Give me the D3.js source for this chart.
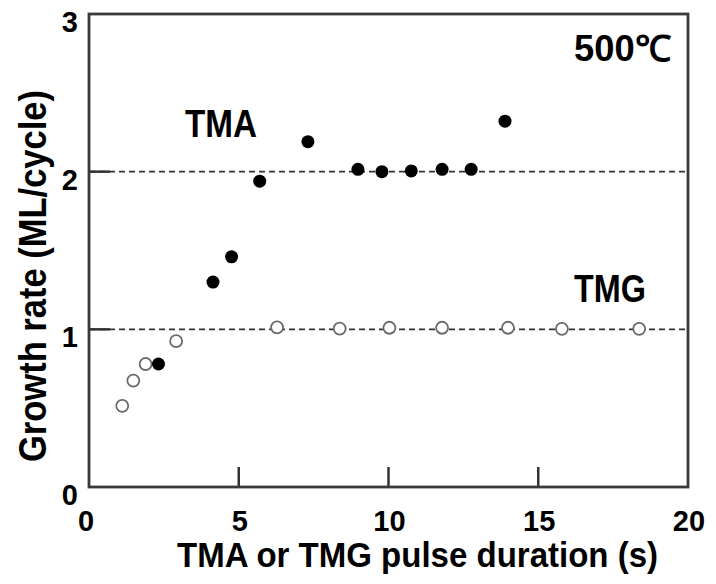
<!DOCTYPE html>
<html lang="en">
<head>
<meta charset="UTF-8">
<title>Growth rate vs pulse duration</title>
<script src="https://cdn.jsdelivr.net/npm/d3@7"></script>
<style>
  body { margin: 0; background: #fff; }
  text { font-family: "Liberation Sans", Arial, sans-serif; font-weight: bold; fill: #000; }
</style>
</head>
<body>
<div id="chart"></div>
<script>
// TMA points (filled)
var tmaX = [2.32, 4.14, 4.76, 5.70, 7.31, 8.98, 9.78, 10.76, 11.79, 12.76, 13.89];
var tmaY = [0.78, 1.30, 1.46, 1.94, 2.19, 2.015, 2.00, 2.005, 2.015, 2.015, 2.32];

// TMG points (open)
var tmgX = [1.11, 1.48, 1.89, 2.91, 6.28, 8.37, 10.03, 11.79, 13.99, 15.79, 18.37];
var tmgY = [0.515, 0.675, 0.78, 0.925, 1.013, 1.005, 1.01, 1.01, 1.01, 1.003, 1.003];

// saturation levels (dashed guides)
var levels = [1, 2];

var xTicks = [0, 5, 10, 15, 20];
var yTicks = [0, 1, 2, 3];

var W = 716, H = 584;
var margin = {top: 14, right: 28, bottom: 97, left: 89};

var svg = d3.select("#chart").append("svg")
    .attr("width", W)
    .attr("height", H);

var x = d3.scaleLinear().domain([0, 20]).range([margin.left, W - margin.right]);
var y = d3.scaleLinear().domain([0, 3]).range([H - margin.bottom, margin.top]);

// dashed guide lines
svg.selectAll(".guide")
    .data(levels)
    .enter().append("line")
    .attr("x1", x(0)).attr("x2", x(20))
    .attr("y1", function (d) { return y(d); })
    .attr("y2", function (d) { return y(d); })
    .attr("stroke", "#333")
    .attr("stroke-width", 1.8)
    .attr("stroke-dasharray", "6,4");

// inner ticks
svg.selectAll(".xtick")
    .data([5, 10, 15])
    .enter().append("line")
    .attr("x1", function (d) { return x(d); })
    .attr("x2", function (d) { return x(d); })
    .attr("y1", y(0)).attr("y2", y(0) - 20)
    .attr("stroke", "#333").attr("stroke-width", 2.5);

svg.selectAll(".ytick")
    .data([1, 2])
    .enter().append("line")
    .attr("x1", x(0)).attr("x2", x(0) + 21)
    .attr("y1", function (d) { return y(d); })
    .attr("y2", function (d) { return y(d); })
    .attr("stroke", "#333").attr("stroke-width", 2.5);

// frame
svg.append("rect")
    .attr("x", x(0)).attr("y", y(3))
    .attr("width", x(20) - x(0))
    .attr("height", y(0) - y(3))
    .attr("fill", "none")
    .attr("stroke", "#3a3a3a")
    .attr("stroke-width", 2.8);

// tick labels
svg.selectAll(".xlab")
    .data(xTicks)
    .enter().append("text")
    .attr("x", function (d) { return d === 0 ? x(d) - 3 : x(d) + 1; })
    .attr("y", y(0) + 44)
    .attr("text-anchor", "middle")
    .style("font-size", "29px")
    .text(function (d) { return d; });

svg.selectAll(".ylab")
    .data(yTicks)
    .enter().append("text")
    .attr("x", x(0) - 11)
    .attr("y", function (d) { return y(d) + 18; })
    .attr("text-anchor", "end")
    .style("font-size", "29px")
    .text(function (d) { return d; });

// TMG open circles
svg.selectAll(".tmg")
    .data(tmgX)
    .enter().append("circle")
    .attr("cx", function (d) { return x(d); })
    .attr("cy", function (d, i) { return y(tmgY[i]); })
    .attr("r", 6)
    .attr("fill", "#fff")
    .attr("stroke", "#6a6a6a")
    .attr("stroke-width", 1.8);

// TMA filled circles
svg.selectAll(".tma")
    .data(tmaX)
    .enter().append("circle")
    .attr("cx", function (d) { return x(d); })
    .attr("cy", function (d, i) { return y(tmaY[i]); })
    .attr("r", 6.5)
    .attr("fill", "#000");

// axis titles
svg.append("text")
    .attr("x", 177).attr("y", 567)
    .attr("textLength", 481)
    .attr("lengthAdjust", "spacingAndGlyphs")
    .style("font-size", "35px")
    .text("TMA or TMG pulse duration (s)");

svg.append("text")
    .attr("transform", "translate(46,462) rotate(-90)")
    .attr("textLength", 372)
    .attr("lengthAdjust", "spacingAndGlyphs")
    .style("font-size", "38px")
    .text("Growth rate (ML/cycle)");

// in-plot labels
svg.append("text")
    .attr("x", 185).attr("y", 137)
    .attr("textLength", 72)
    .attr("lengthAdjust", "spacingAndGlyphs")
    .style("font-size", "38px")
    .text("TMA");

svg.append("text")
    .attr("x", 574).attr("y", 302)
    .attr("textLength", 72)
    .attr("lengthAdjust", "spacingAndGlyphs")
    .style("font-size", "38px")
    .text("TMG");

svg.append("text")
    .attr("x", 574).attr("y", 61)
    .attr("textLength", 97)
    .attr("lengthAdjust", "spacingAndGlyphs")
    .style("font-size", "36px")
    .text("500℃");
</script>
</body>
</html>
